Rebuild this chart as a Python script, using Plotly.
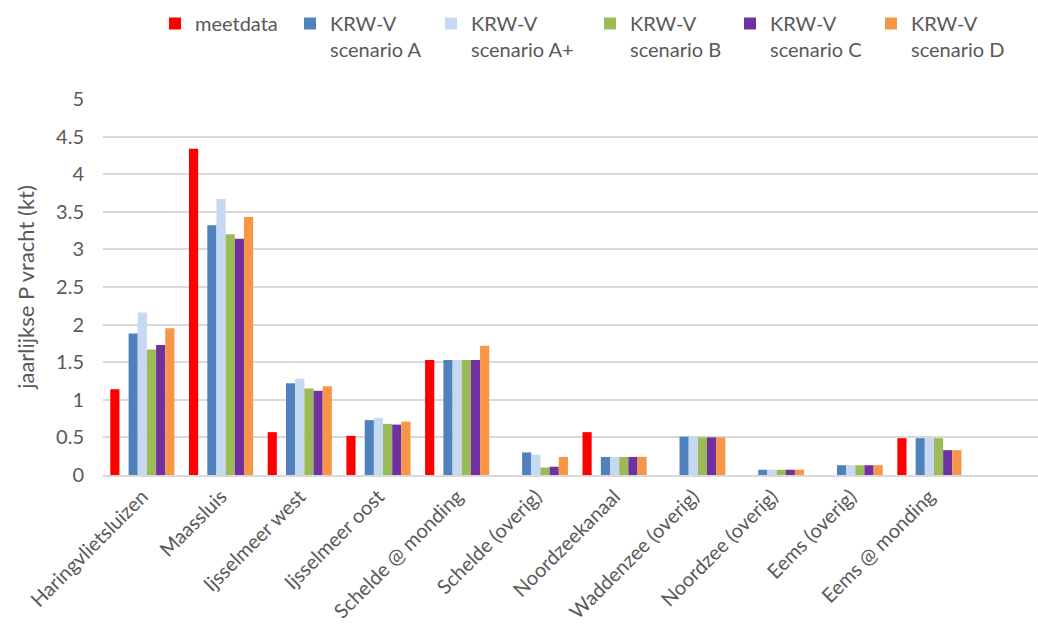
import plotly.graph_objects as go

# ---- data -------------------------------------------------------------
categories = [
    "Haringvlietsluizen", "Maassluis", "Ijsselmeer west", "Ijsselmeer oost",
    "Schelde @ monding", "Schelde (overig)", "Noordzeekanaal",
    "Waddenzee (overig)", "Noordzee (overig)", "Eems (overig)", "Eems @ monding",
]

meetdata = [1.14, 4.34, 0.57, 0.52, 1.53, None, 0.57, None, None, None, 0.49]
scenario_a = [1.88, 3.32, 1.22, 0.73, 1.53, 0.30, 0.24, 0.51, 0.07, 0.13, 0.49]
scenario_a_plus = [2.16, 3.67, 1.28, 0.76, 1.53, 0.27, 0.24, 0.51, 0.07, 0.13, 0.49]
scenario_b = [1.67, 3.20, 1.15, 0.68, 1.53, 0.10, 0.24, 0.50, 0.07, 0.13, 0.49]
scenario_c = [1.73, 3.14, 1.12, 0.67, 1.53, 0.11, 0.24, 0.50, 0.07, 0.13, 0.33]
scenario_d = [1.95, 3.43, 1.18, 0.71, 1.72, 0.24, 0.24, 0.50, 0.07, 0.13, 0.33]

series_names = [
    "meetdata",
    "KRW-V<br>scenario A",
    "KRW-V<br>scenario A+",
    "KRW-V<br>scenario B",
    "KRW-V<br>scenario C",
    "KRW-V<br>scenario D",
]
series_values = [meetdata, scenario_a, scenario_a_plus, scenario_b, scenario_c, scenario_d]

y_tick_values = [0, 0.5, 1, 1.5, 2, 2.5, 3, 3.5, 4, 4.5, 5]
y_tick_labels = ["0", "0.5", "1", "1.5", "2", "2.5", "3", "3.5", "4", "4.5", "5"]

# ---- styling ----------------------------------------------------------
W, H = 1038, 629
colors = ["#FF0000", "#4F81BD", "#C6D9F1", "#9BBB59", "#7030A0", "#F79646"]
slots = [0, 2, 3, 4, 5, 6]          # one empty slot between meetdata and the scenarios
n_slots = 7
group_width = 0.815
slot_w = group_width / n_slots
legend_x_px = [155, 290, 431, 590, 730, 871]
legend_names = ["legend", "legend2", "legend3", "legend4", "legend5", "legend6"]

FONT = "Lato, 'Open Sans', sans-serif"
TEXT = "#595959"
GRID = "#D9D9D9"

fig = go.Figure()
for i, (name, vals) in enumerate(zip(series_names, series_values)):
    fig.add_trace(go.Bar(
        x=categories,
        y=vals,
        name=name,
        marker=dict(color=colors[i], line=dict(width=0)),
        width=slot_w,
        offset=-group_width / 2 + slots[i] * slot_w,
        legend=legend_names[i],
    ))

layout_legends = {}
for i, lg in enumerate(legend_names):
    layout_legends[lg] = dict(
        x=legend_x_px[i] / W, xref="container", xanchor="left",
        y=1 - 4 / H, yref="container", yanchor="top",
        orientation="h", valign="top",
        bgcolor="rgba(0,0,0,0)",
        font=dict(family=FONT, size=20, color=TEXT),
    )

fig.update_layout(
    width=W, height=H,
    margin=dict(l=103, r=0, t=99, b=154, autoexpand=False),
    paper_bgcolor="white",
    plot_bgcolor="white",
    barmode="overlay",
    font=dict(family=FONT, color=TEXT),
    showlegend=True,
    **layout_legends,
)

fig.update_xaxes(
    type="category",
    range=[-0.5, 11.38],
    tickangle=-45,
    tickfont=dict(family=FONT, size=20, color=TEXT),
    showgrid=False,
    showline=True, linecolor=GRID, linewidth=2,
    ticks="",
    automargin=False,
)
fig.update_yaxes(
    range=[0, 5],
    tickvals=y_tick_values,
    ticktext=y_tick_labels,
    tickfont=dict(family=FONT, size=20, color=TEXT),
    showgrid=True, gridcolor=GRID, gridwidth=2,
    zeroline=False,
    showline=False,
    ticks="",
    ticklabelstandoff=18,
    automargin=False,
    title=dict(text="jaarlijkse P vracht (kt)", font=dict(family=FONT, size=22, color=TEXT)),
)

fig.write_html("out.html")
